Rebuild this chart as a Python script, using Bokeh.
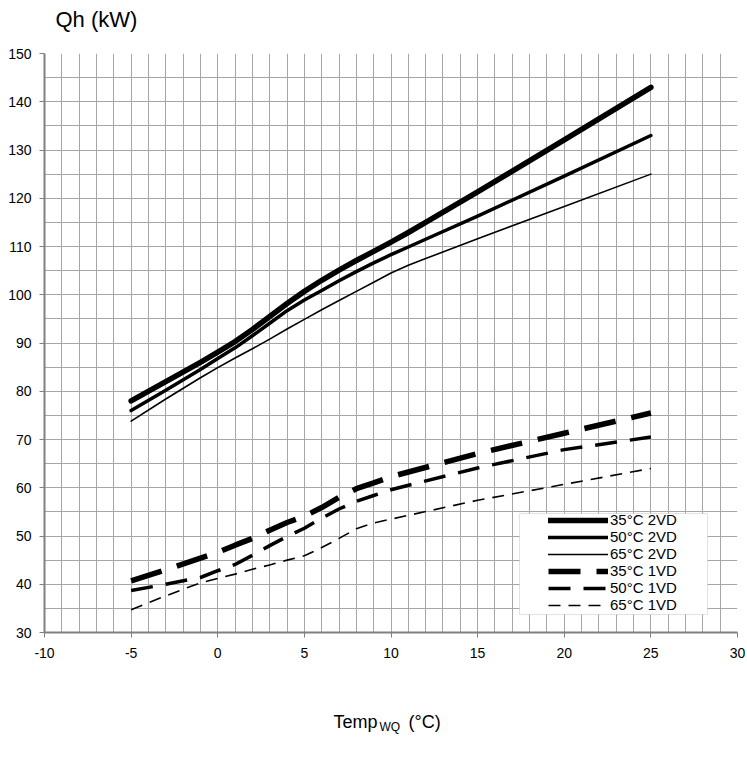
from bokeh.plotting import figure
from bokeh.layouts import column
from bokeh.models import (Range1d, SingleIntervalTicker, FixedTicker, Label,
                          Legend, LegendItem, BoxAnnotation)
from bokeh.embed import file_html
from bokeh.resources import INLINE

# ---- data ----
temp_2vd = [-5, -3, -1, 0, 1, 2, 3, 4, 5, 6, 7, 8, 9, 10, 11, 12, 15, 20, 25]
qh_35_2vd = [78.0, 82.0, 86.0, 88.1, 90.3, 92.8, 95.5, 98.2, 100.7, 103.0, 105.1, 107.1, 109.0, 110.9, 112.9, 115.0, 121.3, 132.1, 143.0]
qh_50_2vd = [76.0, 80.2, 84.5, 86.8, 89.0, 91.5, 94.1, 96.7, 98.9, 100.9, 102.9, 104.8, 106.6, 108.3, 109.9, 111.5, 116.3, 124.6, 133.0]
qh_65_2vd = [73.8, 78.4, 82.8, 84.9, 86.9, 88.8, 90.8, 92.9, 94.9, 96.9, 98.8, 100.7, 102.6, 104.5, 106.1, 107.5, 111.6, 118.3, 125.0]

temp_1vd = [-5, -3, -1, 0, 1, 2, 3, 4, 5, 6, 7, 8, 9, 10, 15, 20, 25]
qh_35_1vd = [40.7, 43.0, 45.4, 46.6, 48.1, 49.5, 51.2, 52.8, 54.1, 55.9, 58.0, 59.8, 61.0, 62.3, 67.1, 71.3, 75.5]
qh_50_1vd = [38.7, 40.0, 41.4, 42.8, 44.1, 46.0, 48.0, 49.9, 51.6, 53.7, 55.6, 57.2, 58.4, 59.6, 64.1, 67.9, 70.5]
qh_65_1vd = [34.7, 37.6, 40.3, 41.2, 42.1, 43.1, 44.0, 45.0, 45.9, 47.6, 49.5, 51.5, 52.7, 53.5, 57.4, 60.7, 64.0]

series_labels = ["35°C 2VD", "50°C 2VD", "65°C 2VD", "35°C 1VD", "50°C 1VD", "65°C 1VD"]
x_ticks = [-10, -5, 0, 5, 10, 15, 20, 25, 30]
y_ticks = [30, 40, 50, 60, 70, 80, 90, 100, 110, 120, 130, 140, 150]
y_title = "Qh (kW)"
x_title_main, x_title_sub, x_title_unit = "Temp", "WQ", "(°C)"

FONT = "Liberation Sans"
GRID = "#a6a6a6"
AXIS = "#808080"
W = 745
LEFT, RIGHT = 44, 8


def strip(height):
    # text-only strip; its frame is aligned with the main chart, data units = page pixels
    s = figure(width=W, height=height, x_range=Range1d(LEFT, W - RIGHT), y_range=Range1d(0, height),
               x_axis_type=None, y_axis_type=None, title=None,
               output_backend="svg", toolbar_location=None,
               min_border_left=LEFT, min_border_right=RIGHT, min_border_top=0, min_border_bottom=0)
    s.outline_line_color = None
    s.xgrid.visible = False
    s.ygrid.visible = False
    return s


# top strip with the y title
top = strip(40)
top.add_layout(Label(x=55, y=21, text=y_title, text_font=FONT, text_font_size="22px",
                     text_color="black", text_baseline="alphabetic", text_align="left"))

# main chart
p = figure(width=W, height=632, x_range=Range1d(-10, 30), y_range=Range1d(30, 150),
           title=None, output_backend="svg", toolbar_location=None,
           min_border_left=LEFT, min_border_right=RIGHT, min_border_top=13, min_border_bottom=40)
p.outline_line_color = None

p.xgrid.ticker = SingleIntervalTicker(interval=1)
p.ygrid.ticker = SingleIntervalTicker(interval=5)
for g in (p.xgrid, p.ygrid):
    g.grid_line_color = GRID
    g.grid_line_width = 1

p.xaxis.ticker = FixedTicker(ticks=x_ticks)
p.yaxis.ticker = FixedTicker(ticks=y_ticks)
p.xaxis.major_label_overrides = {t: str(t) for t in x_ticks}
for ax in (p.xaxis, p.yaxis):
    ax.axis_line_color = AXIS
    ax.axis_line_width = 2
    ax.major_tick_line_color = AXIS
    ax.major_tick_line_width = 1
    ax.major_tick_in = 0
    ax.major_tick_out = 5
    ax.minor_tick_line_color = None
    ax.major_label_text_font = FONT
    ax.major_label_text_font_size = "14px"
    ax.major_label_text_color = "black"
p.xaxis.major_label_standoff = 10
p.yaxis.major_label_standoff = 8

# legend box (behind legend entries)
box = BoxAnnotation(left=475, right=663, top=119, bottom=18,
                    left_units="screen", right_units="screen",
                    top_units="screen", bottom_units="screen",
                    fill_color="white", fill_alpha=1.0,
                    line_color="#a0a0a0", line_width=1)
p.add_layout(box)

r1 = p.line(temp_2vd, qh_35_2vd, line_width=5.5, line_color="black", line_cap="round", line_join="round")
r2 = p.line(temp_2vd, qh_50_2vd, line_width=3.5, line_color="black", line_cap="round", line_join="round")
r3 = p.line(temp_2vd, qh_65_2vd, line_width=1.6, line_color="black", line_cap="round", line_join="round")
r4 = p.line(temp_1vd, qh_35_1vd, line_width=5.5, line_color="black", line_dash="32 16", line_cap="butt", line_join="round")
r5 = p.line(temp_1vd, qh_50_1vd, line_width=3.5, line_color="black", line_dash="22 13", line_cap="butt", line_join="round")
r6 = p.line(temp_1vd, qh_65_1vd, line_width=1.6, line_color="black", line_dash="12 8", line_cap="butt", line_join="round")

legend = Legend(items=[LegendItem(label=lab, renderers=[r]) for lab, r in
                       zip(series_labels, [r1, r2, r3, r4, r5, r6])],
                location=(504, 19), padding=0, margin=0, spacing=0,
                glyph_width=60, glyph_height=16, label_height=16, label_standoff=2,
                label_text_font=FONT, label_text_font_size="15px", label_text_color="black",
                border_line_alpha=0, background_fill_alpha=0)
p.add_layout(legend)

# bottom strip with the x title (with subscript)
bottom = strip(85)
bottom.add_layout(Label(x=333, y=36, text=x_title_main, text_font=FONT, text_font_size="18px",
                        text_color="black", text_baseline="alphabetic", text_align="left"))
bottom.add_layout(Label(x=379, y=31, text=x_title_sub, text_font=FONT, text_font_size="12px",
                        text_color="black", text_baseline="alphabetic", text_align="left"))
bottom.add_layout(Label(x=408, y=36, text=x_title_unit, text_font=FONT, text_font_size="18px",
                        text_color="black", text_baseline="alphabetic", text_align="left"))

layout = column(top, p, bottom, spacing=0)
open("out.html", "w").write(file_html(layout, INLINE))
